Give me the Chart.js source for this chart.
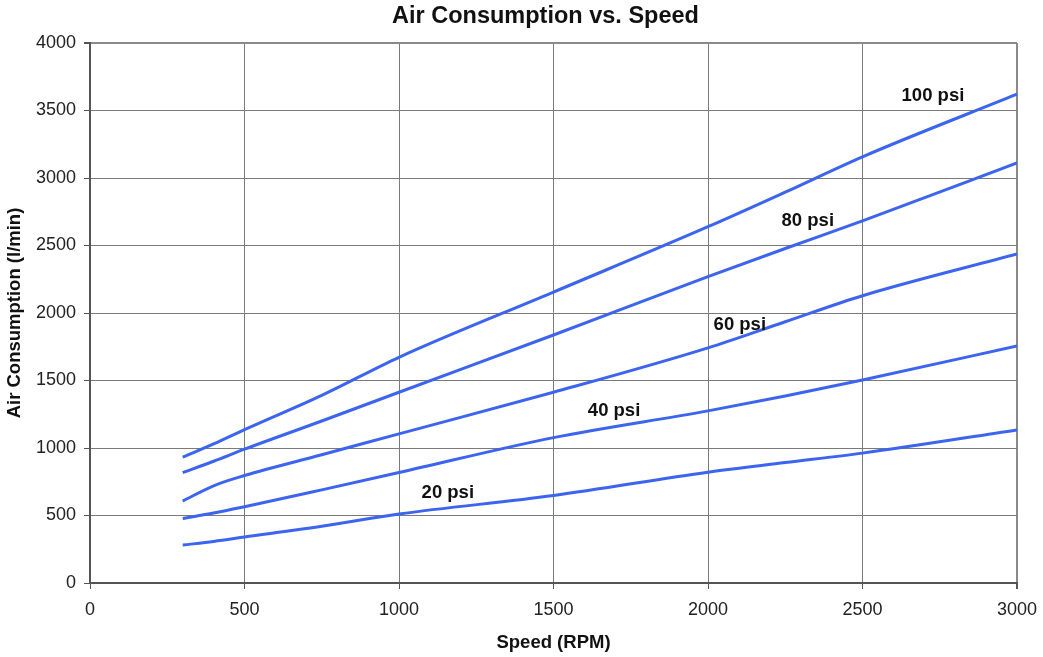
<!DOCTYPE html>
<html>
<head>
<meta charset="utf-8">
<script src="https://cdn.jsdelivr.net/npm/chart.js@4/dist/chart.umd.min.js"></script>
<style>
  html, body { margin: 0; padding: 0; background: #ffffff; }
  #wrap { width: 1043px; height: 657px; position: relative; }
</style>
</head>
<body>
<div id="wrap"><canvas id="c" width="1043" height="657"></canvas></div>
<script>
// ---- data ----
const speeds   = [300, 400, 500, 750, 1000, 1500, 2000, 2250, 2500, 3000];
const psi100   = [932, 1030, 1136, 1390, 1672, 2155, 2639, 2895, 3157, 3621];
const psi80    = [818, 902, 991, 1200, 1413, 1837, 2269, 2478, 2683, 3112];
const psi60    = [607, 720, 796, 950, 1105, 1413, 1742, 1935, 2128, 2437];
const psi40    = [478, 518, 565, 690, 818, 1077, 1275, 1385, 1504, 1756];
const psi20    = [281, 308, 340, 420, 511, 648, 821, 892, 962, 1134];
const seriesNames = ['100 psi', '80 psi', '60 psi', '40 psi', '20 psi'];
const xTicks = [0, 500, 1000, 1500, 2000, 2500, 3000];
const yTicks = [0, 500, 1000, 1500, 2000, 2500, 3000, 3500, 4000];
// label anchors in data units (RPM, l/min)
const labelRPM   = [2728, 2323, 2103, 1696, 1158];
const labelValue = [3610, 2680, 1910, 1272, 668];

const allSeries = [psi100, psi80, psi60, psi40, psi20];
const lineColor = '#3c64ee';

const datasets = allSeries.map((vals, i) => ({
  label: seriesNames[i],
  data: speeds.map((s, j) => ({ x: s, y: vals[j] })),
  borderColor: lineColor,
  backgroundColor: lineColor,
  borderWidth: 3,
  pointRadius: 0,
  pointHoverRadius: 0,
  cubicInterpolationMode: 'monotone',
  fill: false
}));

const FONT = "'Liberation Sans', Arial, Helvetica, sans-serif";

const seriesLabels = {
  id: 'seriesLabels',
  afterDatasetsDraw(chart) {
    const ctx = chart.ctx;
    const xs = chart.scales.x, ys = chart.scales.y;
    ctx.save();
    ctx.font = 'bold 18.5px ' + FONT;
    ctx.fillStyle = '#111111';
    ctx.textAlign = 'center';
    ctx.textBaseline = 'middle';
    seriesNames.forEach((n, i) => {
      ctx.fillText(n, xs.getPixelForValue(labelRPM[i]), ys.getPixelForValue(labelValue[i]));
    });
    ctx.restore();
  }
};

const mainTitle = {
  id: 'mainTitle',
  afterDraw(chart) {
    const ctx = chart.ctx;
    const a = chart.chartArea;
    ctx.save();
    ctx.font = 'bold 23.5px ' + FONT;
    ctx.fillStyle = '#111111';
    ctx.textAlign = 'center';
    ctx.textBaseline = 'middle';
    ctx.fillText('Air Consumption vs. Speed', (a.left + a.right) / 2 - 8, 17);
    ctx.restore();
  }
};

new Chart(document.getElementById('c'), {
  type: 'line',
  data: { datasets },
  options: {
    responsive: false,
    animation: false,
    devicePixelRatio: 1,
    layout: { padding: { top: 43, right: 26, left: 0, bottom: 0 } },
    plugins: {
      legend: { display: false },
      tooltip: { enabled: false },
      title: { display: false }
    },
    scales: {
      x: {
        type: 'linear',
        min: 0, max: 3000,
        afterBuildTicks(scale) { scale.ticks = xTicks.map(v => ({ value: v })); },
        afterFit(scale) { scale.height = 74; scale.paddingRight = 20; scale.paddingLeft = 0; },
        ticks: {
          color: '#222222',
          font: { family: FONT, size: 18 },
          padding: 10,
          maxRotation: 0,
          callback: (v) => String(v)
        },
        grid: {
          color: (c) => c.tick && c.tick.value === 3000 ? '#8a8a8a' : '#7a7a7a',
          lineWidth: (c) => c.tick && c.tick.value === 3000 ? 2 : 1,
          tickColor: '#555555',
          tickLength: 6,
          drawTicks: true
        },
        border: { display: true, color: '#555555', width: 2 },
        title: {
          display: true,
          text: 'Speed (RPM)',
          color: '#111111',
          font: { family: FONT, size: 18.5, weight: 'bold' },
          padding: { top: 0, bottom: 3 }
        }
      },
      y: {
        type: 'linear',
        min: 0, max: 4000,
        afterBuildTicks(scale) { scale.ticks = yTicks.map(v => ({ value: v })); },
        afterFit(scale) { scale.width = 90; },
        ticks: {
          color: '#222222',
          font: { family: FONT, size: 18 },
          padding: 8,
          callback: (v) => String(v)
        },
        grid: {
          color: (c) => c.tick && c.tick.value === 4000 ? '#8a8a8a' : '#7a7a7a',
          lineWidth: (c) => c.tick && c.tick.value === 4000 ? 2 : 1,
          tickColor: '#555555',
          tickLength: 6,
          drawTicks: true
        },
        border: { display: true, color: '#555555', width: 2 },
        title: {
          display: true,
          text: 'Air Consumption (l/min)',
          color: '#111111',
          font: { family: FONT, size: 18.5, weight: 'bold' },
          padding: { top: 4, bottom: 0 }
        }
      }
    }
  },
  plugins: [seriesLabels, mainTitle]
});
</script>
</body>
</html>
